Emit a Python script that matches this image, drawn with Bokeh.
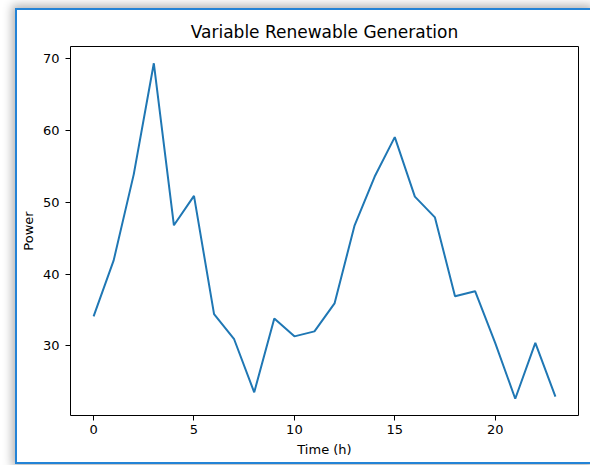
from bokeh.plotting import figure
from bokeh.models import FixedTicker, Range1d
from bokeh.embed import file_html
from bokeh.resources import INLINE

# Data
hours = list(range(24))
power = [34.1, 41.9, 53.9, 69.4, 46.8, 50.9, 34.4, 30.9, 23.5, 33.8, 31.3, 32.0,
         35.9, 46.8, 53.6, 59.1, 50.8, 47.9, 36.9, 37.6, 30.4, 22.6, 30.4, 22.9]
x_ticks = [0, 5, 10, 15, 20]
y_ticks = [30, 40, 50, 60, 70]

title_text = "Variable Renewable Generation"
x_label = "Time (h)"
y_label = "Power"

# matplotlib-like 5% margins
xmin, xmax = min(hours), max(hours)
ymin, ymax = min(power), max(power)
xpad = 0.05 * (xmax - xmin)
ypad = 0.05 * (ymax - ymin)

FONT = "DejaVu Sans"
BLUE_FRAME = "#2383d6"

p = figure(width=575, height=456, output_backend="svg", toolbar_location=None,
           x_range=Range1d(xmin - xpad, xmax + xpad),
           y_range=Range1d(ymin - ypad, ymax + ypad),
           min_border_left=50, min_border_right=14,
           min_border_top=36, min_border_bottom=51,
           title=title_text)

p.styles = {"margin-left": "15px",
            "margin-top": "8px",
            "border-left": f"2px solid {BLUE_FRAME}",
            "border-top": f"2px solid {BLUE_FRAME}",
            "border-bottom": f"2px solid {BLUE_FRAME}",
            "box-shadow": "0 0 9px 3px rgba(0,0,0,0.30)"}

p.line(hours, power, line_color="#1f77b4", line_width=2)

p.title.text_font = FONT
p.title.text_font_size = "17px"
p.title.text_font_style = "normal"
p.title.text_color = "#000000"
p.title.align = "center"

p.grid.visible = False
p.outline_line_color = "#000000"
p.outline_line_width = 1
p.background_fill_color = "white"
p.border_fill_color = "white"

for ax in (p.xaxis[0], p.yaxis[0]):
    ax.axis_line_color = None
    ax.major_tick_in = 0
    ax.major_tick_out = 5
    ax.minor_tick_line_color = None
    ax.major_tick_line_color = "#000000"
    ax.major_label_text_font = FONT
    ax.major_label_text_font_size = "13px"
    ax.major_label_text_color = "#000000"
    ax.axis_label_text_font = FONT
    ax.axis_label_text_font_size = "13px"
    ax.axis_label_text_font_style = "normal"
    ax.axis_label_text_color = "#000000"

p.xaxis[0].major_label_standoff = 4
p.yaxis[0].major_label_standoff = 6
p.xaxis[0].ticker = FixedTicker(ticks=x_ticks)
p.yaxis[0].ticker = FixedTicker(ticks=y_ticks)
p.xaxis[0].axis_label = x_label
p.yaxis[0].axis_label = y_label
p.xaxis[0].axis_label_standoff = 5
p.yaxis[0].axis_label_standoff = 4

open("out.html", "w").write(file_html(p, INLINE))
